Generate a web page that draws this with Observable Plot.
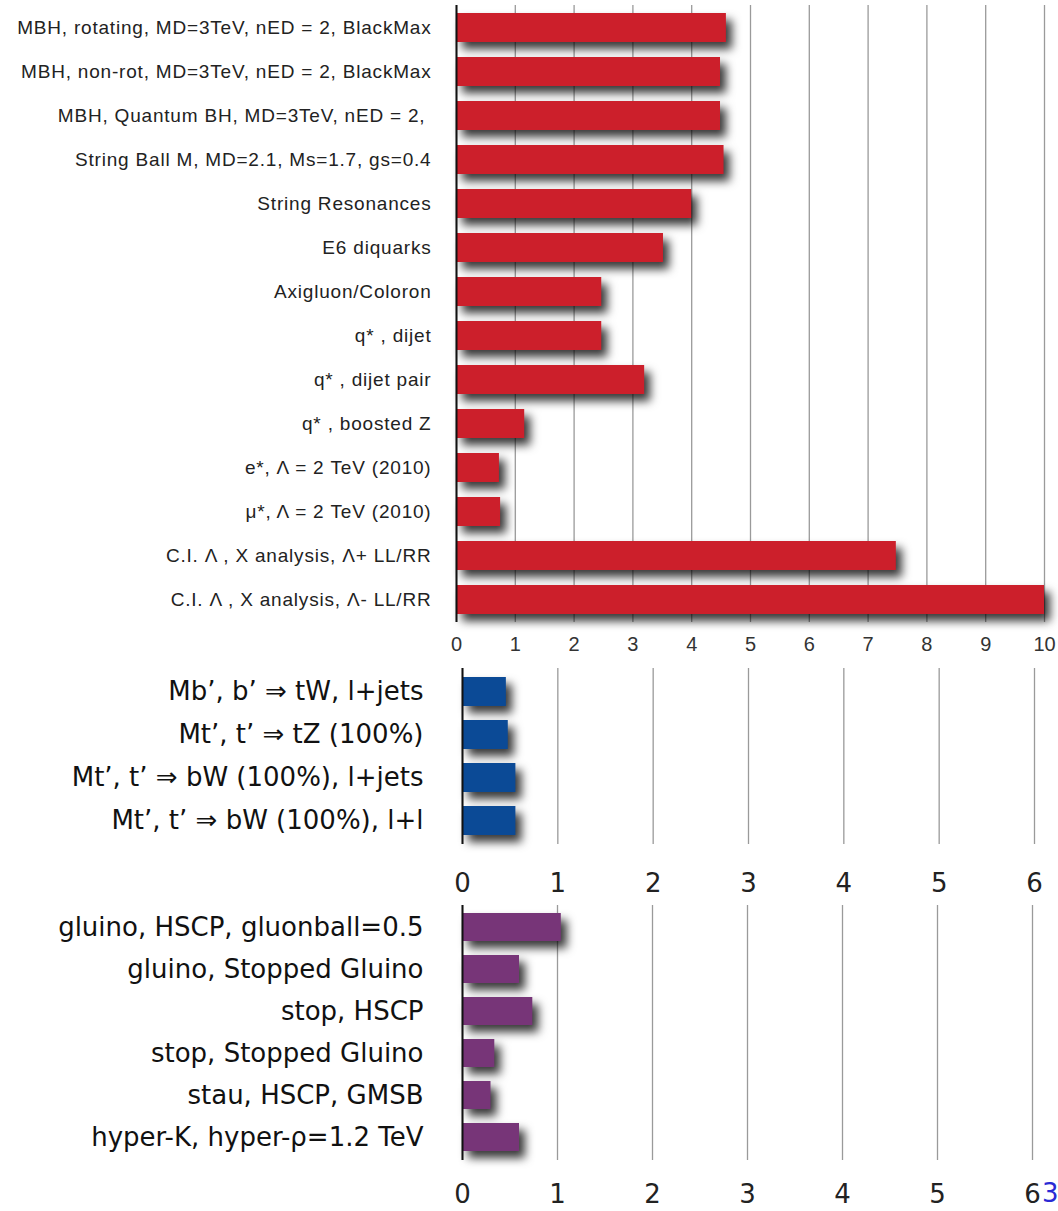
<!DOCTYPE html>
<html>
<head>
<meta charset="utf-8">
<script src="https://cdn.jsdelivr.net/npm/d3@7"></script>
<script src="https://cdn.jsdelivr.net/npm/@observablehq/plot@0.6"></script>
<style>
  body { margin: 0; background: #fff; }
  #wrap { position: relative; width: 1058px; height: 1211px; overflow: hidden; background: #fff; }
  #wrap svg { position: absolute; left: 0; }
  #pagenum { position: absolute; left: 1042px; top: 1178px; font: 26px "DejaVu Sans", sans-serif; line-height: 30px; color: #2a2ad4; }
</style>
</head>
<body>
<div id="wrap"><span id="pagenum">3</span></div>
<script>
// ---- Panel 1: exotica (red) ----
const exoticLabels = [
  "MBH, rotating, MD=3TeV, nED = 2, BlackMax",
  "MBH, non-rot, MD=3TeV, nED = 2, BlackMax",
  "MBH, Quantum BH, MD=3TeV, nED = 2, ",
  "String Ball M, MD=2.1, Ms=1.7, gs=0.4",
  "String Resonances",
  "E6 diquarks",
  "Axigluon/Coloron",
  "q* , dijet",
  "q* , dijet pair",
  "q* , boosted Z",
  "e*, Λ = 2 TeV (2010)",
  "μ*, Λ = 2 TeV (2010)",
  "C.I. Λ , X analysis, Λ+ LL/RR",
  "C.I. Λ , X analysis, Λ- LL/RR"
];
const exoticValues = [4.59, 4.49, 4.49, 4.55, 4.0, 3.52, 2.47, 2.47, 3.2, 1.16, 0.73, 0.75, 7.48, 10.0];
const exoticTicks = [0, 1, 2, 3, 4, 5, 6, 7, 8, 9, 10];

// ---- Panel 2: fourth generation (blue) ----
const fourthLabels = [
  "Mb’, b’ ⇒ tW, l+jets",
  "Mt’, t’ ⇒ tZ (100%)",
  "Mt’, t’ ⇒ bW (100%), l+jets",
  "Mt’, t’ ⇒ bW (100%), l+l"
];
const fourthValues = [0.46, 0.48, 0.56, 0.56];
const fourthTicks = [0, 1, 2, 3, 4, 5, 6];

// ---- Panel 3: long-lived (purple) ----
const longLabels = [
  "gluino, HSCP, gluonball=0.5",
  "gluino, Stopped Gluino",
  "stop, HSCP",
  "stop, Stopped Gluino",
  "stau, HSCP, GMSB",
  "hyper-K, hyper-ρ=1.2 TeV"
];
const longValues = [1.04, 0.60, 0.74, 0.34, 0.30, 0.60];
const longTicks = [0, 1, 2, 3, 4, 5, 6];

const wrap = document.getElementById("wrap");

function panel({labels, values, ticks, color, top, height, marginTop, marginBottom, marginLeft, marginRight,
                xmax, pIn, pOut, labelFont, labelSize, labelFill, labelPad, letterSpacing,
                tickFont, tickSize, tickFill, tickPad}) {
  const data = labels.map((name, i) => ({name, value: values[i]}));
  const chart = Plot.plot({
    width: 1058,
    height,
    marginTop, marginBottom, marginLeft, marginRight,
    style: {background: "transparent", overflow: "visible"},
    x: {domain: [0, xmax], label: null},
    y: {domain: labels, paddingInner: pIn, paddingOuter: pOut, label: null},
    marks: [
      Plot.gridX(ticks, {stroke: "#9a9a9a", strokeOpacity: 1, strokeWidth: 1.3}),
      Plot.barX(data, {x: "value", y: "name", fill: color}),
      Plot.ruleX([0], {stroke: "#111", strokeWidth: 2}),
      Plot.axisY({tickSize: 0, tickPadding: labelPad, fontSize: labelSize, fontFamily: labelFont, fill: labelFill, label: null}),
      Plot.axisX(ticks, {tickSize: 0, tickPadding: tickPad, fontSize: tickSize, fontFamily: tickFont, fill: tickFill, label: null})
    ]
  });
  chart.style.top = top + "px";
  d3.select(chart).selectAll('g[aria-label="bar"]').style("filter", "drop-shadow(6px 7px 5px rgba(0,0,0,0.78))");
  if (letterSpacing) d3.select(chart).selectAll('g[aria-label="y-axis tick label"] text').style("letter-spacing", letterSpacing);
  wrap.appendChild(chart);
}

panel({
  labels: exoticLabels, values: exoticValues, ticks: exoticTicks, color: "#cc1f2b",
  top: 0, height: 660, marginTop: 5, marginBottom: 38, marginLeft: 456, marginRight: 14,
  xmax: 10, pIn: 0.343, pOut: 0.16,
  labelFont: "'Liberation Sans', Arial, sans-serif", labelSize: 19, labelFill: "#222", labelPad: 25, letterSpacing: "0.8px",
  tickFont: "'Liberation Sans', Arial, sans-serif", tickSize: 20, tickFill: "#333", tickPad: 14
});

panel({
  labels: fourthLabels, values: fourthValues, ticks: fourthTicks, color: "#0b4a96",
  top: 660, height: 240, marginTop: 8, marginBottom: 56, marginLeft: 462, marginRight: 24,
  xmax: 6, pIn: 0.318, pOut: 0.16,
  labelFont: "'DejaVu Sans', sans-serif", labelSize: 26, labelFill: "#111", labelPad: 39,
  tickFont: "'DejaVu Sans', sans-serif", tickSize: 26, tickFill: "#222", tickPad: 29
});

panel({
  labels: longLabels, values: longValues, ticks: longTicks, color: "#773578",
  top: 900, height: 311, marginTop: 5, marginBottom: 51, marginLeft: 462, marginRight: 26,
  xmax: 6, pIn: 0.33, pOut: 0.165,
  labelFont: "'DejaVu Sans', sans-serif", labelSize: 26, labelFill: "#111", labelPad: 39,
  tickFont: "'DejaVu Sans', sans-serif", tickSize: 26, tickFill: "#222", tickPad: 24
});
</script>
</body>
</html>
